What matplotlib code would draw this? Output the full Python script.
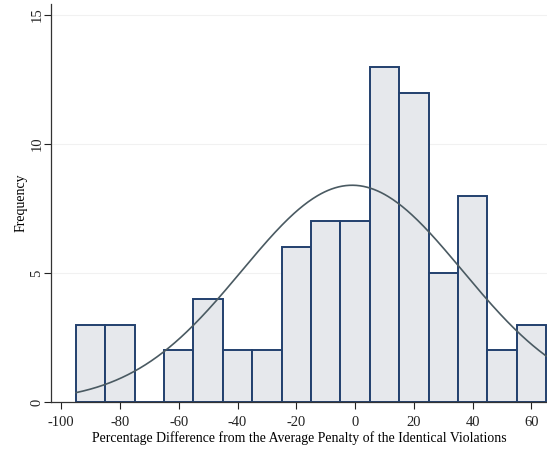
import numpy as np
import matplotlib
matplotlib.use("Agg")
import matplotlib.pyplot as plt

# Histogram data (bin edges width 10)
bin_lefts = [-95, -85, -75, -65, -55, -45, -35, -25, -15, -5, 5, 15, 25, 35, 45, 55]
counts    = [3,   3,   0,   2,   4,   2,   2,   6,   7,   7, 13, 12, 5,  8,  2,  3]
bin_width = 10

# fitted normal curve parameters
norm_mean = -1.0
norm_sd = 37.5

xticks = [-100, -80, -60, -40, -20, 0, 20, 40, 60]
yticks = [0, 5, 10, 15]

plt.rcParams['font.family'] = ['Liberation Serif', 'DejaVu Serif']
plt.rcParams['axes.unicode_minus'] = False

fig = plt.figure(figsize=(5.47, 4.51), dpi=100)
ax = fig.add_axes([0.0932, 0.1086, 0.9068, 0.8836])

for y in [5, 10, 15]:
    ax.axhline(y, color='#f1f1f1', lw=0.8, zorder=0)

ax.bar(bin_lefts, counts, width=bin_width, align='edge',
       color='#e6e8ec', edgecolor='#22406e', linewidth=1.4, zorder=2)

n = sum(counts)
xs = np.linspace(-95, 65, 400)
ys = n * bin_width / (norm_sd * np.sqrt(2 * np.pi)) * np.exp(-0.5 * ((xs - norm_mean) / norm_sd) ** 2)
ax.plot(xs, ys, color='#4a5a62', lw=1.2, zorder=3)

ax.set_xlim(-103.5, 65.3)
ax.set_ylim(0, 15.45)
ax.set_xticks(xticks)
ax.set_yticks(yticks)
ax.set_yticklabels([str(v) for v in yticks], rotation=90, va='center')
ax.tick_params(direction='out', length=5, width=0.8, labelsize=10.5, colors='#222222')
ax.tick_params(axis='x', pad=5)
ax.tick_params(axis='y', pad=0.5)
for s in ['top', 'right']:
    ax.spines[s].set_visible(False)
for s in ['left', 'bottom']:
    ax.spines[s].set_color('#333333')
    ax.spines[s].set_linewidth(0.9)

ax.set_xlabel('Percentage Difference from the Average Penalty of the Identical Violations',
              fontsize=9.9, labelpad=2)
ax.set_ylabel('Frequency', fontsize=10, labelpad=2)

fig.savefig('out.png', dpi=100)
